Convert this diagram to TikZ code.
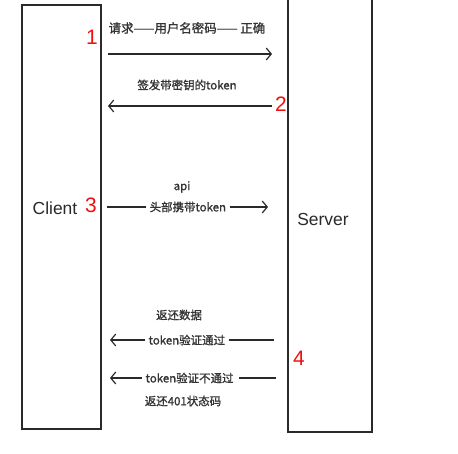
\documentclass[tikz,border=0pt]{standalone}
\usepackage{fontspec}
\setmainfont{Liberation Sans}
\newfontfamily\cjk{Noto Sans CJK SC}[FakeBold=1.2]
\usetikzlibrary{arrows.meta}
\definecolor{ink}{HTML}{2A2A2A}
\definecolor{lbl}{HTML}{333333}
\definecolor{numred}{HTML}{F01010}
\tikzset{
  party/.style={draw=ink,line width=1.4pt,rectangle,inner sep=0pt},
  partytext/.style={font=\fontsize{17.5}{20}\selectfont,text=ink,inner sep=0pt},
  msg/.style={font=\cjk\fontsize{11.5}{13}\selectfont,text=lbl,inner sep=1.5pt},
  inl/.style={msg,inner xsep=3.5pt},
  num/.style={font=\fontsize{21}{24}\selectfont,text=numred,inner sep=0pt},
  wire/.style={draw=ink,line width=1.2pt},
  arr/.style={wire,-{Straight Barb[length=5pt,width=12pt,line width=1.2pt]}}
}
\begin{document}
\begin{tikzpicture}[x=1bp,y=-1bp]
\useasboundingbox (0,0) rectangle (458,454);
\fill[white] (0,0) rectangle (458,454);
% parties
\draw[party] (22,5) rectangle (101,429);
\draw[party] (288,-3) rectangle (372,432);
\node[partytext] (client) at (55,208) {Client};
\node[partytext] (server) at (323,219) {Server};
% numbers
\node[num] (n1) at (92,37) {1};
\node[num] (n2) at (281,104) {2};
\node[num] (n3) at (91,205) {3};
\node[num] (n4) at (299,358) {4};
% message 1
\node[msg,font=\cjk\fontsize{12.5}{14}\selectfont] (t1) at (187,28) {请求——用户名密码—— 正确};
\coordinate (a1) at (108,54);
\coordinate (b1) at (272,54);
\draw[arr] (a1) -- (b1);
% message 2
\node[msg] (t2) at (187,85) {签发带密钥的token};
\coordinate (a2) at (272,106);
\coordinate (b2) at (108,106);
\draw[arr] (a2) -- (b2);
% message 3
\node[msg] (api) at (182,187) {api};
\node[inl,anchor=west] (t3) at (146,207) {头部携带token};
\coordinate (a3) at (107,207);
\coordinate (b3) at (268,207);
\draw[wire] (a3) -- (t3.west);
\draw[arr] (t3.east) -- (b3);
% message 4a
\node[msg] (r4a) at (179,315) {返还数据};
\node[inl,anchor=west] (t4a) at (145,340) {token验证通过};
\coordinate (a4a) at (274,340);
\coordinate (b4a) at (110,340);
\draw[wire] (a4a) -- (t4a.east);
\draw[arr] (t4a.west) -- (b4a);
% message 4b
\node[inl,anchor=west] (t4b) at (142,378) {token验证不通过};
\node[msg] (r4b) at (183,401) {返还401状态码};
\coordinate (a4b) at (276,378);
\coordinate (b4b) at (110,378);
\draw[wire] (a4b) -- ([xshift=2bp]t4b.east);
\draw[arr] (t4b.west) -- (b4b);
\end{tikzpicture}
\end{document}
